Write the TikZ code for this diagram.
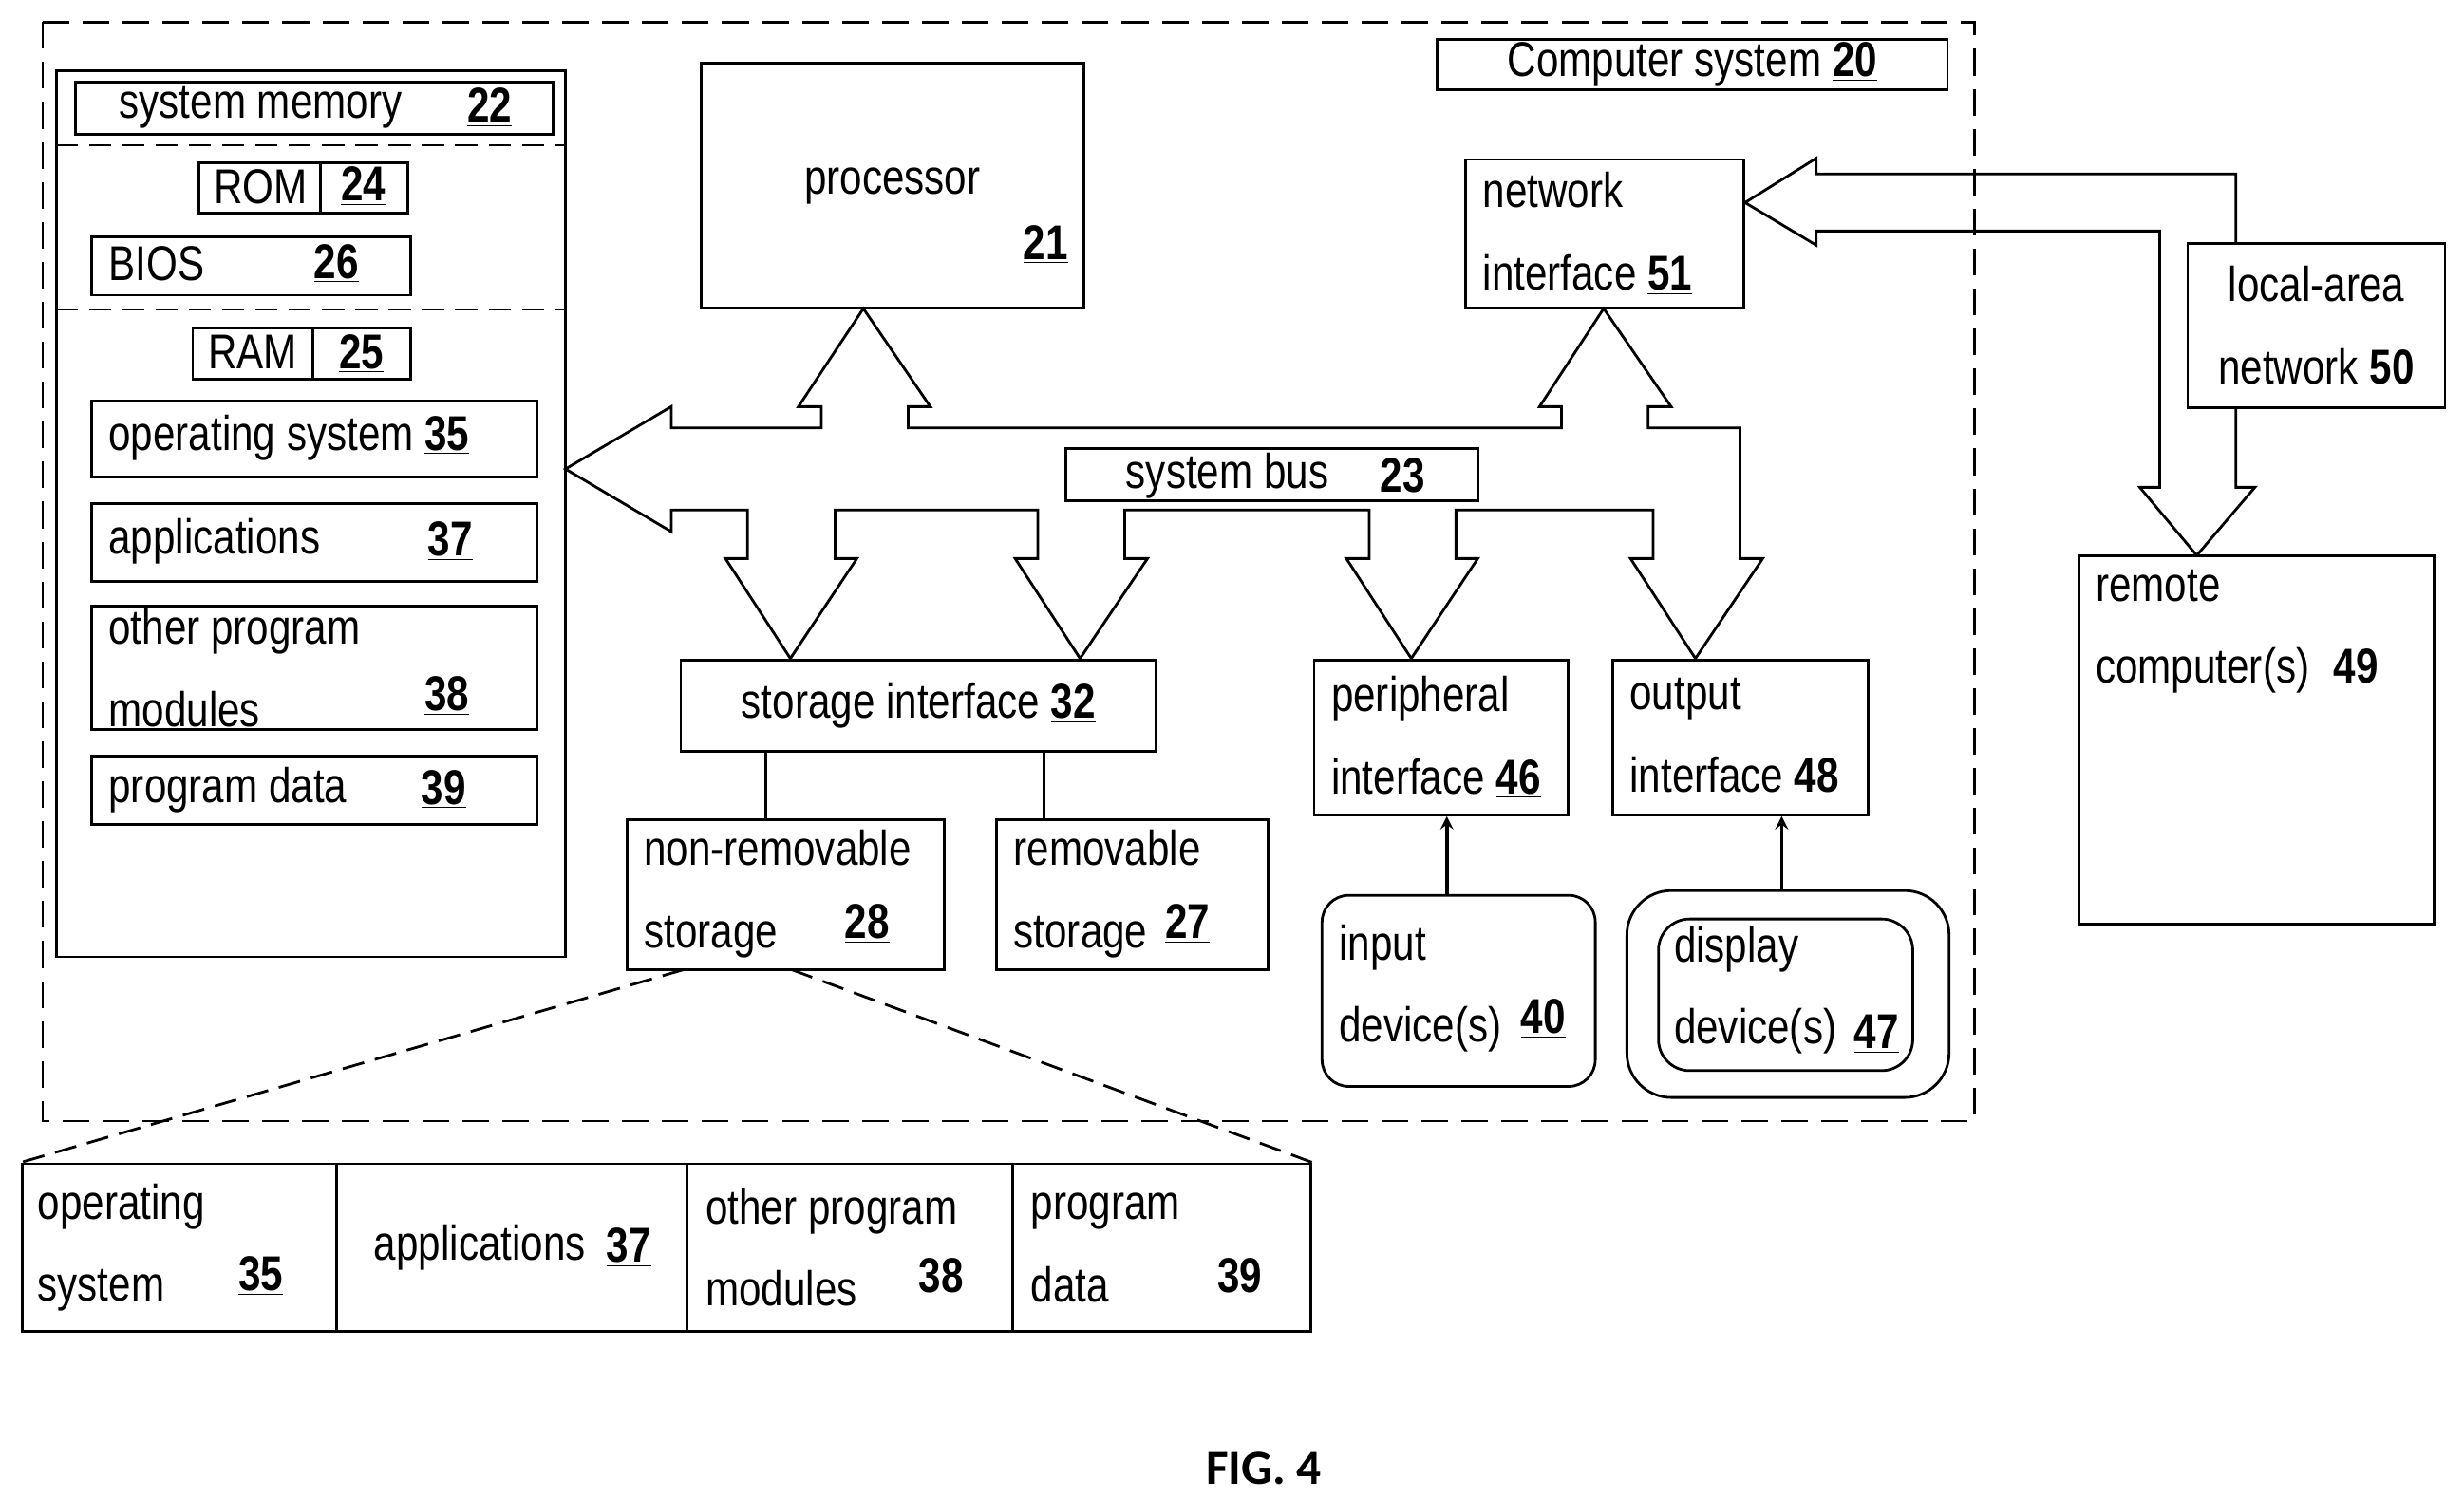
\documentclass[tikz,border=0pt]{standalone}
\usepackage{fontspec}
\setmainfont{Liberation Sans}[FakeStretch=0.82]
\newfontfamily\figfont{Carlito}
\usetikzlibrary{fit}

\newcommand{\num}[1]{\underline{\textbf{#1}}}
% a box given by two opposite corners
\newcommand{\blk}[4][]{%
  \path (#3) coordinate (#2-a) (#4) coordinate (#2-b);
  \node[blk,#1,fit=(#2-a)(#2-b)] (#2) {};}

\begin{document}
\begin{tikzpicture}[x=0.25mm, y=-0.25mm, line width=1.2pt,
    blk/.style={draw, inner sep=0pt},
    txt/.style={anchor=west, inner sep=0pt, align=left,
      font=\fontsize{22}{37}\selectfont},
    ctr/.style={inner sep=0pt, font=\fontsize{22}{37}\selectfont},
    >=stealth]
  \useasboundingbox (0,0) rectangle (1560,948);

  % computer system
  \draw[dashed, dash pattern=on 12pt off 6pt] (27,14) rectangle (1250,710);
  \blk{cs}{910,25}{1233,57}
  \node[ctr] (cs-t) at (cs) {Computer system \num{20}};

  % system memory
  \blk{mem}{36,45}{358,606}
  \blk{sm}{48,52}{350,85}
  \node[ctr] (sm-t) at (165,68) {system memory};
  \node[ctr] (sm-n) at (310,68) {\num{22}};
  \draw[dashed, dash pattern=on 10pt off 5pt] (mem.west |- 0,92) -- (mem.east |- 0,92);
  \draw[dashed, dash pattern=on 10pt off 5pt] (mem.west |- 0,196) -- (mem.east |- 0,196);
  \blk{rom}{126,103}{258,135}
  \draw (203,103) -- (203,135);
  \node[ctr] (rom-t) at (165,118) {ROM};
  \node[ctr] (rom-n) at (230,118) {\num{24}};
  \blk{bios}{58,150}{260,187}
  \node[txt] (bios-t) at (68,167) {BIOS};
  \node[ctr] (bios-n) at (213,167) {\num{26}};
  \blk{ram}{122,208}{260,240}
  \draw (198,208) -- (198,240);
  \node[ctr] (ram-t) at (160,223) {RAM};
  \node[ctr] (ram-n) at (229,224) {\num{25}};
  \blk{os}{58,254}{340,302}
  \node[txt] (os-t) at (68,277) {operating system \num{35}};
  \blk{app}{58,319}{340,368}
  \node[txt] (app-t) at (68,343) {applications};
  \node[ctr] (app-n) at (285,343) {\num{37}};
  \blk{opm}{58,384}{340,462}
  \node[txt] (opm-t) at (68,423) {other program\\modules};
  \node[ctr] (opm-n) at (283,441) {\num{38}};
  \blk{pd}{58,479}{340,522}
  \node[txt] (pd-t) at (68,500) {program data};
  \node[ctr] (pd-n) at (281,500) {\num{39}};

  % processor and network interface
  \blk{proc}{444,40}{686,195}
  \node[ctr] (proc-t) at (565,118) {processor};
  \node[ctr] (proc-n) at (662,155) {\num{21}};
  \blk{ni}{928,101}{1104,195}
  \node[txt] (ni-t) at (938,148) {network\\interface \num{51}};

  % system bus
  \draw (358,297) -- (425,257.5) -- (425,271) -- (520,271) -- (520,257.5)
    -- (505.5,257.5) -- (546.6,195.4) -- (589,257.5) -- (575,257.5) -- (575,271)
    -- (988.6,271) -- (988.6,257.5) -- (974.7,257.5) -- (1015.3,195.4)
    -- (1058,257.5) -- (1043.5,257.5) -- (1043.5,271) -- (1101.6,271)
    -- (1101.6,353.7) -- (1116,353.7) -- (1073.4,417) -- (1032.3,353.7)
    -- (1046.6,353.7) -- (1046.6,323) -- (921.8,323) -- (921.8,353.7)
    -- (935.6,353.7) -- (893.5,417) -- (852.4,353.7) -- (866.8,353.7)
    -- (866.8,323) -- (712.1,323) -- (712.1,353.7) -- (726.5,353.7)
    -- (683.8,417) -- (642.7,353.7) -- (657,353.7) -- (657,323)
    -- (528.7,323) -- (528.7,353.7) -- (542.5,353.7) -- (500.4,417)
    -- (459.3,353.7) -- (473.2,353.7) -- (473.2,323) -- (425,323)
    -- (425,336.7) -- cycle;
  \blk{bus}{675,284}{936,317}
  \node[ctr] (bus-t) at (777,301) {system bus};
  \node[ctr] (bus-n) at (888,301) {\textbf{23}};

  % storage
  \blk{si}{431,418}{732,476}
  \node[ctr] (si-t) at (si) {storage interface \num{32}};
  \blk{nrs}{397,519}{598,614}
  \node[txt] (nrs-t) at (407,566) {non-removable\\storage};
  \node[ctr] (nrs-n) at (549,585) {\num{28}};
  \blk{rs}{631,519}{803,614}
  \node[txt] (rs-t) at (641,566) {removable\\storage};
  \node[ctr] (rs-n) at (752,585) {\num{27}};
  \draw (si.south -| 485,0) -- (nrs.north -| 485,0);
  \draw (si.south -| 661,0) -- (rs.north -| 661,0);

  % peripherals
  \blk{pi}{832,418}{993,516}
  \node[txt] (pi-t) at (842,467) {peripheral\\interface \num{46}};
  \blk{oi}{1021,418}{1183,516}
  \node[txt] (oi-t) at (1031,467) {output\\interface \num{48}};
  \blk[rounded corners=12pt]{in}{837,567}{1010,688}
  \node[txt] (in-t) at (847,626) {input\\device(s)};
  \node[ctr] (in-n) at (977,645) {\num{40}};
  \blk[rounded corners=20pt]{dso}{1030,564}{1234,695}
  \blk[rounded corners=14pt]{dsi}{1050,582}{1211,678}
  \node[txt] (ds-t) at (1059,627) {display\\device(s)};
  \node[ctr] (ds-n) at (1188,655) {\num{47}};
  \draw[->, line width=1.6pt] (in.north -| 916,0) -- (pi.south -| 916,0);
  \draw[->, line width=1.6pt] (dso.north -| 1128,0) -- (oi.south -| 1128,0);

  % network connection
  \draw (ni.east |- 0,128.3) -- (1149.9,100.2) -- (1149.9,110.2) -- (1415.6,110.2)
    -- (1415.6,308.6) -- (1427.6,308.6) -- (1390.8,351.7) -- (1354.7,308.6)
    -- (1367.3,308.6) -- (1367.3,146.3) -- (1149.9,146.3) -- (1149.9,155.3) -- cycle;
  \blk[fill=white]{lan}{1385,154}{1548,258}
  \node[ctr, align=center] (lan-t) at (lan) {local-area\\network \textbf{50}};
  \blk{rc}{1316,352}{1541,585}
  \node[txt] (rc-t) at (1326,400) {remote\\computer(s)\enspace\textbf{49}};

  % storage contents
  \blk{bot}{14,737}{830,843}
  \foreach \sx in {213,435,641} {\draw (\sx,737) -- (\sx,843);}
  \draw[dashed, dash pattern=on 10pt off 5pt] (433,614) -- (bot.north west);
  \draw[dashed, dash pattern=on 10pt off 5pt] (501,614) -- (bot.north east);
  \node[txt] (b1-t) at (23,790) {operating\\system};
  \node[ctr] (b1-n) at (165,808) {\num{35}};
  \node[txt] (b2-t) at (236,790) {applications};
  \node[ctr] (b2-n) at (398,790) {\num{37}};
  \node[txt] (b3-t) at (446,790) {other program\\modules};
  \node[ctr] (b3-n) at (596,808) {\textbf{38}};
  \node[txt] (b4-t) at (652,790) {program\\data};
  \node[ctr] (b4-n) at (785,808) {\textbf{39}};

  \node[font=\figfont\bfseries\fontsize{22}{26}\selectfont] (fig) at (800,930) {FIG. 4};
\end{tikzpicture}
\end{document}
